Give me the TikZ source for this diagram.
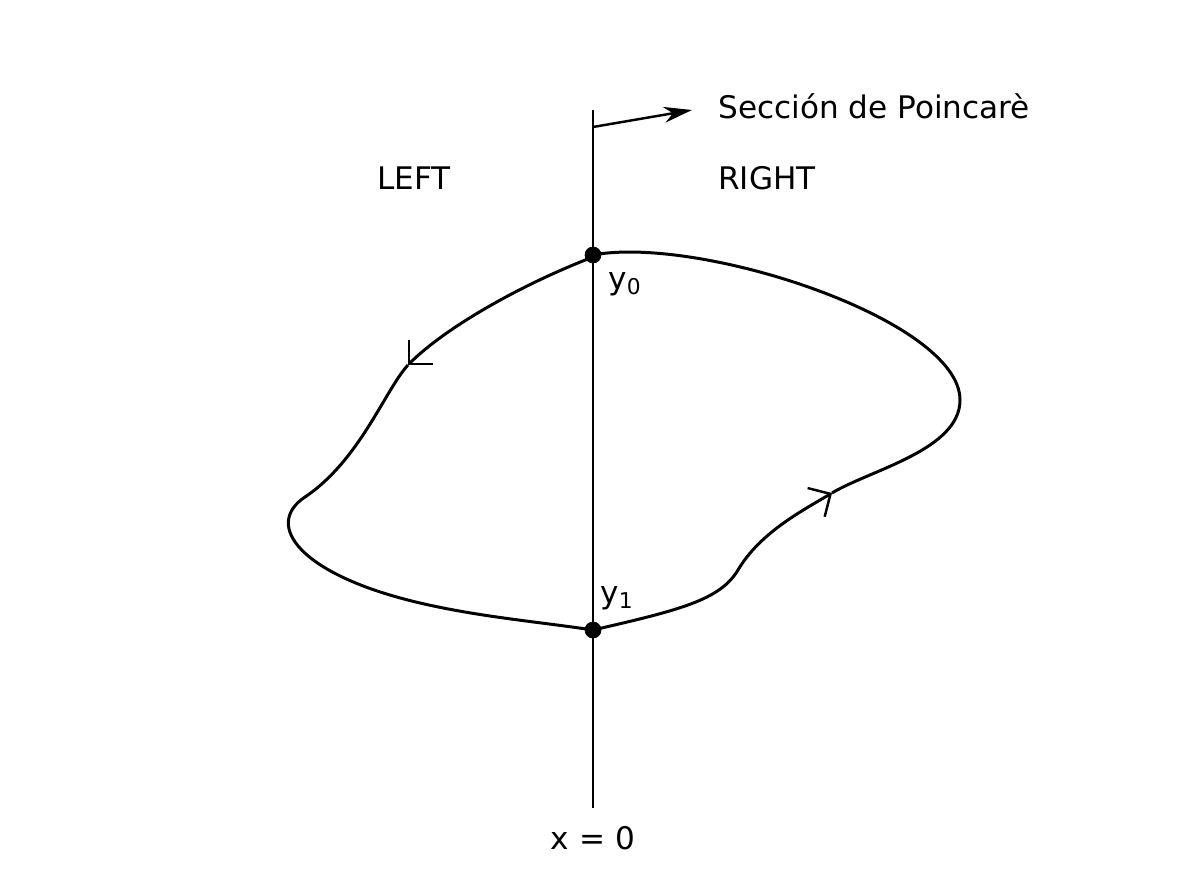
\documentclass[tikz,border=0pt]{standalone}
\usepackage{fontspec}
\setmainfont{DejaVu Sans}
\usetikzlibrary{arrows.meta, positioning}
\tikzset{
  lbl/.style={font=\fontsize{17.7}{21}\selectfont, inner sep=0pt},
  dot/.style={circle, fill=black, draw=black, minimum size=0.32cm, inner sep=0pt},
  axis/.style={line width=1.1pt},
  orbit/.style={line width=1.7pt},
  barb/.style={orbit, -{Straight Barb[length=9.5pt, width=19pt, line width=1.4pt]}},
  secarrow/.style={line width=1.4pt, -{Stealth[length=16pt, width=9pt, inset=5pt]}},
}
\begin{document}
\begin{tikzpicture}[x=0.02cm, y=-0.02cm]
\useasboundingbox (0,0) rectangle (1200,888);
% axis x = 0
\coordinate (top) at (593,110);
\coordinate (bot) at (593,808);
\draw[axis] (top) -- (bot);
\node[lbl, below=10pt of bot] (xzero) {x = 0};
% section arrow
\coordinate (sec) at (593,127);
\coordinate (sectip) at (692,110);
\draw[secarrow] (sec) -- (sectip);
\node[lbl, anchor=west] (poinc) at (718,106) {Sección de Poincarè};
\node[lbl] (left) at (414,178) {LEFT};
\node[lbl, anchor=west] (right) at (718,178) {RIGHT};
% orbit points
\coordinate (arrR) at (832,493);
\coordinate (east) at (960,400);
\coordinate (arrL) at (408,365);
\coordinate (west) at (305,497);
\coordinate (south) at (420,603);
\coordinate (bend) at (738,570);
% orbit
\draw[barb] (593,630) .. controls (680,610) and (720,600) .. (bend)
  .. controls (760,533) and (800,512) .. (arrR);
\draw[orbit] (arrR) .. controls (870,470) and (960,450) .. (east)
  .. controls (960,320) and (700,235) .. (593,255);
\draw[barb] (593,257) .. controls (520,285) and (445,328) .. (arrL);
\draw[orbit] (arrL) .. controls (385,390) and (360,460) .. (west)
  .. controls (263,525) and (300,575) .. (south)
  .. controls (480,617) and (540,622) .. (593,630);
% crossings
\node[dot] (y0) at (593,255) {};
\node[dot] (y1) at (593,630) {};
\node[lbl] (y0lab) at (625,284) {y\textsubscript{0}};
\node[lbl] (y1lab) at (617,598) {y\textsubscript{1}};
\end{tikzpicture}
\end{document}
